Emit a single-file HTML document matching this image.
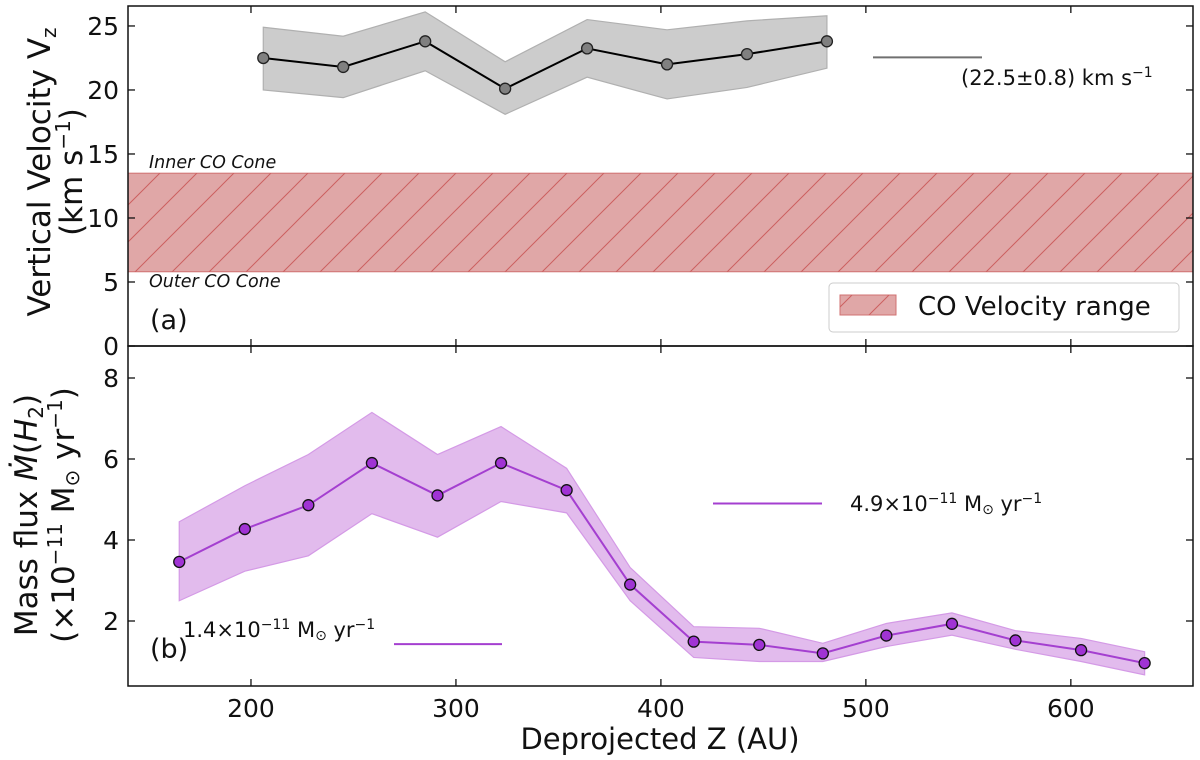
<!DOCTYPE html>
<html><head><meta charset="utf-8">
<style>
body{margin:0;background:#fff;}
svg{display:block;font-family:"DejaVu Sans","Liberation Sans",sans-serif;}
</style></head>
<body>
<svg id="chart" width="1200" height="760" viewBox="0 0 1200 760" xmlns="http://www.w3.org/2000/svg">
<defs>
<pattern id="hatch" patternUnits="userSpaceOnUse" width="37" height="37">
<path d="M-5,42 L42,-5 M-5,5 L5,-5 M32,42 L42,32" stroke="#cc6060" stroke-width="1" fill="none"/>
</pattern>
</defs>
<g id="panelA"></g>
<g id="panelB"></g>
<g id="axesG"></g>
</svg>
<script>
// Panel (a) data
const velZ = [206, 245, 285, 324, 364, 403, 442, 481];
const velV = [22.5, 21.8, 23.8, 20.1, 23.25, 22.0, 22.8, 23.8];
const velUpper = [24.9, 24.2, 26.1, 22.2, 25.5, 24.7, 25.4, 25.8];
const velLower = [20.0, 19.4, 21.5, 18.1, 21.0, 19.3, 20.2, 21.7];
const coRange = [5.8, 13.5];
const velMean = [22.55];
const velXTicks = [200, 300, 400, 500, 600];
const velYTicks = [0, 5, 10, 15, 20, 25];
// Panel (b) data
const fluxZ = [165, 197, 228, 259, 291, 322, 354, 385, 416, 448, 479, 510, 542, 573, 605, 636];
const fluxV = [3.46, 4.27, 4.86, 5.9, 5.1, 5.9, 5.23, 2.9, 1.49, 1.41, 1.2, 1.64, 1.93, 1.52, 1.28, 0.96];
const fluxUpper = [4.45, 5.34, 6.11, 7.15, 6.11, 6.8, 5.77, 3.32, 1.86, 1.82, 1.45, 1.94, 2.2, 1.76, 1.57, 1.24];
const fluxLower = [2.5, 3.23, 3.61, 4.65, 4.07, 4.95, 4.67, 2.5, 1.1, 1.0, 1.0, 1.37, 1.65, 1.3, 1.0, 0.67];
const fluxMeans = [4.9, 1.43];
const fluxYTicks = [2, 4, 6, 8];

const NS = 'http://www.w3.org/2000/svg';
const L = 128, R = 1193, TA = 6, MID = 346, BB = 686;
const xmin = 140, xmax = 659.6;
function xs(v){ return L + (v - xmin) / (xmax - xmin) * (R - L); }
const yaMin = 0, yaMax = 26.56;
function ya(v){ return MID - (v - yaMin) / (yaMax - yaMin) * (MID - TA); }
const ybMin = 0.395, ybMax = 8.79;
function yb(v){ return BB - (v - ybMin) / (ybMax - ybMin) * (BB - MID); }

function mk(tag, attrs, parent){
  const e = document.createElementNS(NS, tag);
  for (const k in attrs) e.setAttribute(k, attrs[k]);
  parent.appendChild(e);
  return e;
}
const A = document.getElementById('panelA');
const B = document.getElementById('panelB');
const G = document.getElementById('axesG');

// ---- Panel A ----
let band = mk('rect', {x:L, y:ya(coRange[1]), width:R-L, height:ya(coRange[0])-ya(coRange[1]), fill:'#e0a7a7', stroke:'#d07070', 'stroke-width':1}, A);


let hatch = mk('rect', {x:L, y:ya(coRange[1]), width:R-L, height:ya(coRange[0])-ya(coRange[1]), fill:'url(#hatch)'}, A);



let pts = velZ.map((z,i)=>xs(z)+','+ya(velUpper[i])).concat(velZ.slice().reverse().map((z,j)=>{const i=velZ.length-1-j;return xs(z)+','+ya(velLower[i]);}));
let vb = mk('polygon', {points:pts.join(' '), fill:'#cccccc', stroke:'#b0b0b0', 'stroke-width':1.2}, A);


let vl = mk('polyline', {points:velZ.map((z,i)=>xs(z)+','+ya(velV[i])).join(' '), fill:'none', stroke:'#000', 'stroke-width':2}, A);


velZ.forEach((z,i)=>{
  const c = mk('circle', {cx:xs(z), cy:ya(velV[i]), r:5.5, fill:'#808080', stroke:'#222', 'stroke-width':1.3}, A);
  
  
});
let ml = mk('line', {x1:873, x2:982, y1:ya(velMean[0]), y2:ya(velMean[0]), stroke:'#707070', 'stroke-width':2}, A);


</script>
<script>
// ---- Panel B ----
(function(){
let pts = fluxZ.map((z,i)=>xs(z)+','+yb(fluxUpper[i])).concat(fluxZ.slice().reverse().map((z,j)=>{const i=fluxZ.length-1-j;return xs(z)+','+yb(fluxLower[i]);}));
let fb = mk('polygon', {points:pts.join(' '), fill:'#e2bbed', stroke:'#d49ae6', 'stroke-width':1.2}, B);


let fl = mk('polyline', {points:fluxZ.map((z,i)=>xs(z)+','+yb(fluxV[i])).join(' '), fill:'none', stroke:'#a43fd0', 'stroke-width':2}, B);


fluxZ.forEach((z,i)=>{
  const c = mk('circle', {cx:xs(z), cy:yb(fluxV[i]), r:5.5, fill:'#a033d4', stroke:'#111', 'stroke-width':1.3}, B);
  
  
});
let m1 = mk('line', {x1:713, x2:822, y1:yb(fluxMeans[0]), y2:yb(fluxMeans[0]), stroke:'#a43fd0', 'stroke-width':2}, B);


let m2 = mk('line', {x1:394, x2:502, y1:yb(fluxMeans[1]), y2:yb(fluxMeans[1]), stroke:'#a43fd0', 'stroke-width':2}, B);



// ---- Axes ----
[[TA,MID],[MID,BB]].forEach(([t,b],k)=>{
  const r = mk('rect', {x:L, y:t, width:R-L, height:b-t, fill:'none', stroke:'#111', 'stroke-width':1.5}, G);
  
  
  velXTicks.forEach(v=>{
    const x = xs(v);
    const t1 = mk('line', {x1:x, x2:x, y1:t, y2:t+7, stroke:'#111', 'stroke-width':1.3}, G);
    
    
    const t2 = mk('line', {x1:x, x2:x, y1:b, y2:b-7, stroke:'#111', 'stroke-width':1.3}, G);
    
    
  });
});
velXTicks.forEach(v=>{
  const tx = mk('text', {x:xs(v), y:717, 'font-size':25, 'text-anchor':'middle', fill:'#111'}, G);
  
  
  tx.textContent = v;
});
velYTicks.forEach(v=>{
  const y = ya(v);
  const a = mk('line', {x1:L, x2:L+7, y1:y, y2:y, stroke:'#111', 'stroke-width':1.3}, G);
  
  
  const b = mk('line', {x1:R, x2:R-7, y1:y, y2:y, stroke:'#111', 'stroke-width':1.3}, G);
  
  
  const tx = mk('text', {x:119, y:y+9, 'font-size':25, 'text-anchor':'end', fill:'#111'}, G);
  
  
  tx.textContent = v;
});
fluxYTicks.forEach(v=>{
  const y = yb(v);
  const a = mk('line', {x1:L, x2:L+7, y1:y, y2:y, stroke:'#111', 'stroke-width':1.3}, G);
  
  
  const b = mk('line', {x1:R, x2:R-7, y1:y, y2:y, stroke:'#111', 'stroke-width':1.3}, G);
  
  
  const tx = mk('text', {x:119, y:y+9, 'font-size':25, 'text-anchor':'end', fill:'#111'}, G);
  
  
  tx.textContent = v;
});
})();
</script>
<script>
document.getElementById('axesG').insertAdjacentHTML('beforeend', `
<text x="660" y="749" font-size="29" text-anchor="middle" fill="#111">Deprojected Z (AU)</text>
<text transform="translate(50,172) rotate(-90)" font-size="31" text-anchor="middle" fill="#111">Vertical Velocity V<tspan font-size="20" dy="6">z</tspan></text>
<text transform="translate(82,172) rotate(-90)" font-size="31" text-anchor="middle" fill="#111">(km s<tspan font-size="20" dy="-12">−1</tspan><tspan dy="12">)</tspan></text>
<text transform="translate(37,515) rotate(-90)" font-size="31" text-anchor="middle" fill="#111">Mass flux <tspan font-style="italic">Ṁ</tspan>(<tspan font-style="italic">H</tspan><tspan font-size="20" dy="6">2</tspan><tspan dy="-6">)</tspan></text>
<text transform="translate(74,515) rotate(-90)" font-size="31" text-anchor="middle" fill="#111">(×10<tspan font-size="20" dy="-12">−11</tspan><tspan dy="12"> M</tspan><tspan font-size="20" dy="5">⊙</tspan><tspan dy="-5"> yr</tspan><tspan font-size="20" dy="-12">−1</tspan><tspan dy="12">)</tspan></text>
<text x="150" y="329" font-size="27" fill="#111">(a)</text>
<text x="150" y="658" font-size="27" fill="#111">(b)</text>
<text x="149" y="168" font-size="17.5" font-style="italic" fill="#111">Inner CO Cone</text>
<text x="149" y="287" font-size="17.5" font-style="italic" fill="#111">Outer CO Cone</text>
<text x="961" y="85" font-size="21" fill="#111">(22.5±0.8) km s<tspan font-size="14" dy="-8">−1</tspan></text>
<text x="850" y="511" font-size="21" fill="#111">4.9×10<tspan font-size="14" dy="-8">−11</tspan><tspan dy="8"> M</tspan><tspan font-size="14" dy="3">⊙</tspan><tspan dy="-3"> yr</tspan><tspan font-size="14" dy="-8">−1</tspan></text>
<text x="183" y="637" font-size="21" fill="#111">1.4×10<tspan font-size="14" dy="-8">−11</tspan><tspan dy="8"> M</tspan><tspan font-size="14" dy="3">⊙</tspan><tspan dy="-3"> yr</tspan><tspan font-size="14" dy="-8">−1</tspan></text>
<g>
<rect x="829" y="283" width="350" height="49" rx="4" fill="#fff" fill-opacity="0.85" stroke="#cccccc" stroke-width="1"/>
<rect x="840" y="295" width="56" height="20" fill="#e0a7a7" stroke="#d07070"/>
<rect x="840" y="295" width="56" height="20" fill="url(#hatch)"/>
<text x="918" y="315" font-size="26" fill="#111">CO Velocity range</text>
</g>`);
</script>
</body></html>
